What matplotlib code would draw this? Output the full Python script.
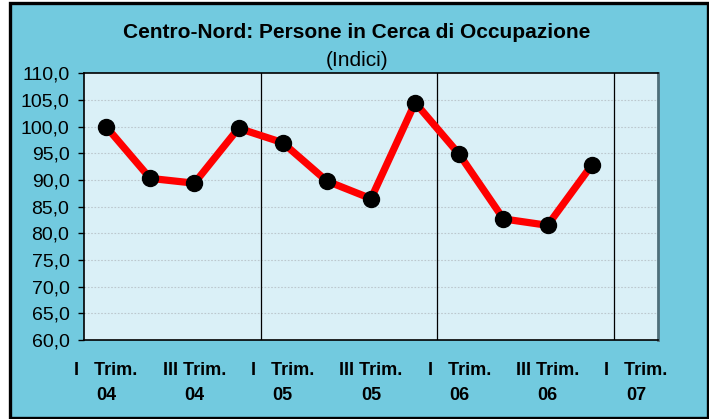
import matplotlib
matplotlib.use("Agg")
import matplotlib.pyplot as plt
from matplotlib.patches import Rectangle
from matplotlib.ticker import FuncFormatter

categories = ["I Trim. 04", "II Trim. 04", "III Trim. 04", "IV Trim. 04",
              "I Trim. 05", "II Trim. 05", "III Trim. 05", "IV Trim. 05",
              "I Trim. 06", "II Trim. 06", "III Trim. 06", "IV Trim. 06",
              "I Trim. 07"]
values = [100.0, 90.3, 89.4, 99.7, 97.0, 89.8, 86.5, 104.5, 94.8, 82.7, 81.5, 92.8]
tick_labels = ["I   Trim.\n04", "III Trim.\n04", "I   Trim.\n05", "III Trim.\n05",
               "I   Trim.\n06", "III Trim.\n06", "I   Trim.\n07"]
year_bounds = [3.5, 7.5, 11.5]

W, H = 709, 419
fig = plt.figure(figsize=(W / 100, H / 100), dpi=100)
fig.patch.set_facecolor("white")
plt.rcParams["font.family"] = ["Liberation Sans", "DejaVu Sans"]

outer = "#72CADF"
fig.patches.append(Rectangle((9.5 / W, 1.5 / H), (W - 11) / W, (H - 4.5) / H,
                             transform=fig.transFigure, facecolor=outer,
                             edgecolor="black", linewidth=2.4, zorder=-10))

ax = fig.add_axes([84 / W, (H - 340) / H, (658 - 84) / W, (340 - 73.3) / H])
ax.set_facecolor("#DAF0F7")

x = list(range(len(values)))
ax.plot(x, values, color="#FF0000", linewidth=5.2, marker="o", markersize=11.5,
        markerfacecolor="black", markeredgecolor="black", zorder=3,
        solid_capstyle="round")

ax.set_xlim(-0.5, len(categories) - 0.5)
ax.set_ylim(60, 110)
ax.set_yticks(range(60, 111, 5))
ax.yaxis.set_major_formatter(FuncFormatter(lambda v, p: f"{v:.1f}".replace(".", ",")))
ax.tick_params(axis="y", labelsize=14, length=4.5, width=1, pad=6, colors="black")

ax.set_xticks(range(0, len(categories), 2))
ax.set_xticklabels(tick_labels, fontweight="bold", fontsize=13, linespacing=1.6)
ax.tick_params(axis="x", length=0, pad=16)

for yv in range(65, 110, 5):
    ax.axhline(yv, color="#BCC8CE", linewidth=0.8, linestyle=(0, (1.5, 1.5)), zorder=1)
for xb in year_bounds:
    ax.axvline(xb, color="black", linewidth=0.9, zorder=2)

for s in ["left", "bottom", "top"]:
    ax.spines[s].set_color("black")
    ax.spines[s].set_linewidth(1.2)
ax.spines["right"].set_color("#4F6F7A")
ax.spines["right"].set_linewidth(2)

fig.text(357 / W, 1 - 33 / H, "Centro-Nord: Persone in Cerca di Occupazione",
         ha="center", va="center", fontsize=15, fontweight="bold")
fig.text(357 / W, 1 - 60 / H, "(Indici)", ha="center", va="center", fontsize=15)

fig.savefig("out.png", dpi=100, facecolor=fig.get_facecolor())
